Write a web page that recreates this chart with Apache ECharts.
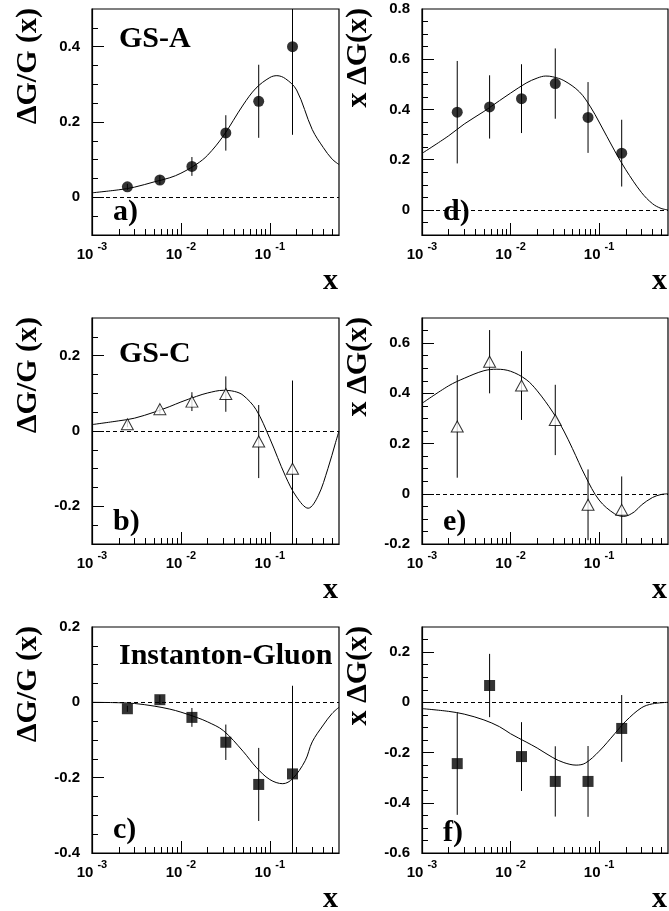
<!DOCTYPE html>
<html>
<head>
<meta charset="utf-8">
<title>Delta G / G</title>
<script src="https://cdn.jsdelivr.net/npm/echarts@6/dist/echarts.min.js"></script>
<style>
html, body { margin: 0; padding: 0; background: #fff; }
#chart { width: 669px; height: 911px; }
</style>
</head>
<body>
<div id="chart"></div>
<script>
// x of the six bins
var xBins = [0.0025, 0.0058, 0.0133, 0.032, 0.075, 0.18];

// dG/G points (a, b, c) and their errors
var ratioErr  = [0.008, 0.012, 0.025, 0.047, 0.097, 0.234];
var ratioGSA  = [0.028, 0.046, 0.082, 0.171, 0.255, 0.400];
var ratioGSC  = [0.018, 0.058, 0.078, 0.098, -0.028, -0.100];
var ratioInst = [-0.017, 0.007, -0.040, -0.106, -0.218, -0.190];

// x dG points (d, e, f) and their errors
var xdgErr  = [0.204, 0.126, 0.137, 0.140, 0.141, 0.133];
var xdgGSA  = [0.389, 0.410, 0.443, 0.503, 0.368, 0.226];
var xdgGSC  = [0.268, 0.526, 0.431, 0.294, -0.044, -0.064];
var xdgInst = [-0.244, 0.067, -0.216, -0.315, -0.315, -0.104];

// model curves
var curveA = [[0.001,0.012],[0.002,0.02],[0.003,0.027],[0.005,0.041],[0.0075,0.052],[0.01,0.064],[0.015,0.088],[0.02,0.112],[0.03,0.163],[0.05,0.245],[0.07,0.29],[0.1,0.318],[0.12,0.323],[0.15,0.315],[0.2,0.285],[0.3,0.18],[0.4,0.132],[0.5,0.102],[0.6,0.087]];
var curveB = [[0.001,0.017],[0.002,0.027],[0.003,0.034],[0.005,0.05],[0.0075,0.065],[0.01,0.077],[0.015,0.092],[0.02,0.101],[0.03,0.108],[0.04,0.105],[0.05,0.095],[0.07,0.057],[0.1,-0.02],[0.15,-0.12],[0.2,-0.175],[0.27,-0.205],[0.35,-0.172],[0.45,-0.1],[0.55,-0.03],[0.6,0.0]];
var curveC = [[0.001,0.0],[0.002,-0.001],[0.003,-0.003],[0.005,-0.01],[0.0075,-0.018],[0.01,-0.026],[0.015,-0.04],[0.02,-0.052],[0.03,-0.075],[0.05,-0.13],[0.07,-0.172],[0.1,-0.205],[0.14,-0.216],[0.18,-0.203],[0.25,-0.155],[0.3,-0.105],[0.4,-0.06],[0.5,-0.03],[0.6,-0.013]];
var curveD = [[0.001,0.225],[0.002,0.295],[0.003,0.342],[0.005,0.392],[0.0075,0.435],[0.01,0.465],[0.015,0.505],[0.02,0.525],[0.025,0.533],[0.03,0.53],[0.04,0.515],[0.06,0.47],[0.08,0.41],[0.1,0.35],[0.15,0.235],[0.2,0.16],[0.3,0.07],[0.4,0.025],[0.5,0.006],[0.6,0.0]];
var curveE = [[0.001,0.36],[0.002,0.43],[0.003,0.46],[0.005,0.49],[0.007,0.496],[0.01,0.488],[0.015,0.455],[0.02,0.41],[0.03,0.325],[0.04,0.25],[0.05,0.18],[0.07,0.07],[0.1,-0.025],[0.15,-0.08],[0.19,-0.09],[0.25,-0.072],[0.3,-0.045],[0.4,-0.015],[0.5,-0.003],[0.6,0.0]];
var curveF = [[0.001,-0.025],[0.002,-0.036],[0.003,-0.047],[0.005,-0.07],[0.0075,-0.097],[0.01,-0.125],[0.015,-0.158],[0.02,-0.182],[0.03,-0.22],[0.04,-0.24],[0.055,-0.25],[0.07,-0.242],[0.1,-0.195],[0.15,-0.125],[0.2,-0.075],[0.3,-0.022],[0.4,-0.006],[0.6,0.0]];

// tick labels
var xDecades = [0.001, 0.01, 0.1];
var xMinor = [0.002,0.003,0.004,0.005,0.006,0.007,0.008,0.009,0.02,0.03,0.04,0.05,0.06,0.07,0.08,0.09,0.2,0.3,0.4,0.5];
var yLabA = [0, 0.2, 0.4];
var yLabB = [-0.2, 0, 0.2];
var yLabC = [-0.4, -0.2, 0, 0.2];
var yLabD = [0, 0.2, 0.4, 0.6, 0.8];
var yLabE = [-0.2, 0, 0.2, 0.4, 0.6];
var yLabF = [-0.6, -0.4, -0.2, 0, 0.2];

var SANS = 'Liberation Sans';
var SERIF = '"Liberation Serif"';
var XMIN = 0.001, XMAX = 0.6;

// one entry per pad
var panels = [
  {col: 0, row: 0, ymin: -0.1, ymax: 0.5, labels: yLabA, pts: ratioGSA, err: ratioErr, curve: curveA, marker: 'circle', tag: 'a)', tagY: 212, model: 'GS-A', modelY: 39},
  {col: 1, row: 0, ymin: -0.1, ymax: 0.8, labels: yLabD, pts: xdgGSA, err: xdgErr, curve: curveD, marker: 'circle', tag: 'd)', tagY: 212},
  {col: 0, row: 1, ymin: -0.3, ymax: 0.3, labels: yLabB, pts: ratioGSC, err: ratioErr, curve: curveB, marker: 'triangle', tag: 'b)', tagY: 522, model: 'GS-C', modelY: 354},
  {col: 1, row: 1, ymin: -0.2, ymax: 0.7, labels: yLabE, pts: xdgGSC, err: xdgErr, curve: curveE, marker: 'triangle', tag: 'e)', tagY: 522},
  {col: 0, row: 2, ymin: -0.4, ymax: 0.2, labels: yLabC, pts: ratioInst, err: ratioErr, curve: curveC, marker: 'rect', tag: 'c)', tagY: 830, model: 'Instanton-Gluon', modelY: 656},
  {col: 1, row: 2, ymin: -0.6, ymax: 0.3, labels: yLabF, pts: xdgInst, err: xdgErr, curve: curveF, marker: 'rect', tag: 'f)', tagY: 833}
];

var colLeft = [92, 422];
var colWidth = [247, 246];
var rowTop = [9, 318, 627];
var padHeight = 226;

function steps(lo, hi, d) {
  var out = [];
  var n = Math.round((hi - lo) / d);
  for (var i = 0; i <= n; i++) out.push(Math.round((lo + i * d) * 1000) / 1000);
  return out;
}

function expLabel(v) {
  var e = Math.round(Math.log(v) / Math.LN10);
  return '{b|10}{s|' + e + '}';
}

function errorBar(params, api) {
  var x = api.value(0), y = api.value(1), e = api.value(2);
  var hi = api.coord([x, y + e]);
  var lo = api.coord([x, y - e]);
  var cs = params.coordSys;
  return {
    type: 'line',
    shape: {x1: hi[0], y1: Math.max(hi[1], cs.y), x2: lo[0], y2: Math.min(lo[1], cs.y + cs.height)},
    style: {stroke: '#000', lineWidth: 1}
  };
}

/**
 * inward ROOT-style ticks as markLine segments
 * tick length is turned into axis units of the pad
 */
function tickSegments(p, w) {
  var segs = [];
  var yUnit = (p.ymax - p.ymin) / padHeight;
  xDecades.concat(xMinor).forEach(function (v) {
    if (v <= XMIN) return;
    var len = xDecades.indexOf(v) >= 0 ? 12 : 6;
    segs.push([{coord: [v, p.ymin]}, {coord: [v, p.ymin + len * yUnit]}]);
  });
  steps(p.ymin, p.ymax, 0.05).forEach(function (v) {
    if (v <= p.ymin || v >= p.ymax) return;
    var major = p.labels.some(function (l) { return Math.abs(l - v) < 1e-6; });
    var len = major ? 12 : 6;
    segs.push([{coord: [XMIN, v]}, {coord: [XMIN * Math.pow(XMAX / XMIN, len / w), v]}]);
  });
  return segs;
}

function text(str, x, y, opt) {
  opt = opt || {};
  return {
    type: 'text', x: x, y: y, rotation: opt.rotation || 0, z: 100,
    style: {
      text: str, fill: '#000',
      font: 'bold ' + (opt.size || 30) + 'px ' + SERIF,
      align: opt.align || 'left', textAlign: opt.align || 'left',
      verticalAlign: 'middle', textVerticalAlign: 'middle'
    }
  };
}

var grids = [], xAxes = [], yAxes = [], series = [], graphics = [];

panels.forEach(function (p, i) {
  var left = colLeft[p.col], top = rowTop[p.row], w = colWidth[p.col];
  grids.push({left: left, top: top, width: w, height: padHeight, show: true,
    borderColor: '#000', borderWidth: 1.2, backgroundColor: 'transparent'});

  xAxes.push({gridIndex: i, type: 'log', logBase: 10, min: XMIN, max: XMAX, position: 'bottom',
    axisLine: {show: true, onZero: false, lineStyle: {color: '#000', width: 1.2}},
    axisTick: {show: false},
    axisLabel: {show: true, customValues: xDecades, margin: 12, formatter: expLabel, color: '#000',
      rich: {
        b: {fontFamily: SANS, fontWeight: 'bold', fontSize: 15, lineHeight: 15, verticalAlign: 'bottom', color: '#000'},
        s: {fontFamily: SANS, fontWeight: 'bold', fontSize: 11, lineHeight: 11, verticalAlign: 'bottom', padding: [0, 0, 10, 4], color: '#000'}
      }},
    splitLine: {show: false}});

  yAxes.push({gridIndex: i, type: 'value', min: p.ymin, max: p.ymax, position: 'left',
    axisLine: {show: true, onZero: false, lineStyle: {color: '#000', width: 1.2}},
    axisTick: {show: false},
    axisLabel: {show: true, customValues: p.labels, margin: 12, color: '#000',
      fontFamily: SANS, fontWeight: 'bold', fontSize: 15,
      formatter: function (v) { return String(Math.round(v * 100) / 100); }},
    splitLine: {show: false}});

  var ax = {xAxisIndex: i, yAxisIndex: i};

  series.push(Object.assign({type: 'line', data: p.curve, showSymbol: false, smooth: 0.35,
    lineStyle: {color: '#000', width: 1}, clip: true, z: 2,
    markLine: {silent: true, symbol: ['none', 'none'], label: {show: false},
      lineStyle: {color: '#000', type: [4, 3], width: 1}, data: [{yAxis: 0}]}}, ax));

  series.push(Object.assign({type: 'custom', renderItem: errorBar, z: 3,
    encode: {x: 0, y: 1},
    data: xBins.map(function (x, k) { return [x, p.pts[k], p.err[k]]; })}, ax));

  var open = p.marker === 'triangle';
  series.push(Object.assign({type: 'scatter', symbol: p.marker,
    symbolSize: open ? [12, 11] : 11, z: 4,
    itemStyle: {color: open ? '#fff' : '#000', borderColor: '#000', borderWidth: open ? 1 : 0},
    markLine: {silent: true, symbol: ['none', 'none'], label: {show: false},
      lineStyle: {color: '#000', type: 'solid', width: 1}, data: tickSegments(p, w)},
    data: xBins.map(function (x, k) { return [x, p.pts[k]]; })}, ax));

  // pad texts
  var yTitle = p.col === 0 ? '\u0394G/G (x)' : 'x \u0394G(x)';
  graphics.push(text(yTitle, p.col === 0 ? 28 : 358, top - 1, {align: 'right', rotation: Math.PI / 2}));
  graphics.push(text('x', left + w - 1, top + padHeight + 46, {align: 'right'}));
  graphics.push(text(p.tag, left + 21, p.tagY));
  if (p.model) graphics.push(text(p.model, left + 27, p.modelY));
});

var chart = echarts.init(document.getElementById('chart'), null, {renderer: 'canvas'});
chart.setOption({
  animation: false,
  backgroundColor: '#fff',
  grid: grids,
  xAxis: xAxes,
  yAxis: yAxes,
  series: series,
  graphic: {elements: graphics}
});
</script>
</body>
</html>
